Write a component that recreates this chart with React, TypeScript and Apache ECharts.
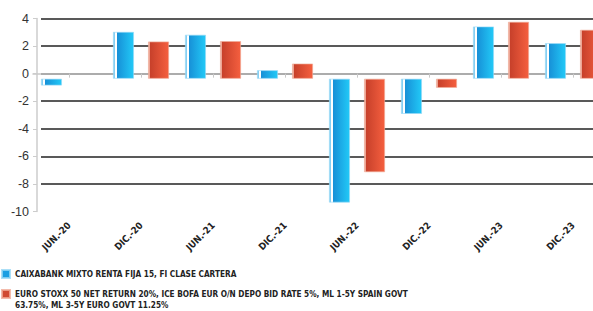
import React, { useEffect, useRef } from "react";
import * as echarts from "echarts";

const categories = ["JUN.-20", "DIC.-20", "JUN.-21", "DIC.-21", "JUN.-22", "DIC.-22", "JUN.-23", "DIC.-23"];
const fundName = "CAIXABANK MIXTO RENTA FIJA 15, FI CLASE CARTERA";
const benchName = "EURO STOXX 50 NET RETURN 20%, ICE BOFA EUR O/N DEPO BID RATE 5%, ML 1-5Y SPAIN GOVT 63.75%, ML 3-5Y EURO GOVT 11.25%";
const fundValues: (number | null)[] = [-0.86, 3.03, 2.82, 0.25, -9.35, -2.92, 3.42, 2.21];
const benchValues: (number | null)[] = [null, 2.33, 2.36, 0.73, -7.15, -1.03, 3.76, 3.18];
const yTicks = { min: -10, max: 4, interval: 2 };
// visual baseline the original chart draws its bars from
const BASE = -0.37;

const FONT = "'Liberation Sans Narrow', 'Arial Narrow', 'DejaVu Sans Condensed', sans-serif";

const blueFill = {
  type: "linear", x: 0, y: 0, x2: 1, y2: 0,
  colorStops: [
    { offset: 0, color: "#86cff2" },
    { offset: 0.08, color: "#86cff2" },
    { offset: 0.08, color: "#ffffff" },
    { offset: 0.18, color: "#ffffff" },
    { offset: 0.18, color: "#1790d7" },
    { offset: 1, color: "#22c9f7" },
  ],
};
const redFill = {
  type: "linear", x: 0, y: 0, x2: 1, y2: 0,
  colorStops: [
    { offset: 0, color: "#eca594" },
    { offset: 0.1, color: "#eca594" },
    { offset: 0.1, color: "#c8412b" },
    { offset: 1, color: "#f55f3f" },
  ],
};

export default function App() {
  const ref = useRef<HTMLDivElement>(null);
  useEffect(() => {
    if (!ref.current) return;
    const chart = echarts.init(ref.current, undefined, { renderer: "svg" });
    const benchLines = benchName.split(" GOVT 63.75%");
    const benchLabel = "\n" + benchLines[0] + " GOVT\n63.75%" + benchLines[1];
    const barCommon = { type: "bar", barWidth: 21, barGap: "67%", stackStrategy: "all", xAxisIndex: 0, yAxisIndex: 0 };
    chart.setOption({
      animation: false,
      grid: [
        { left: 33, top: 18.5, width: 576, height: 193, outerBoundsMode: "none", containLabel: false },
        { left: 41, right: 0, top: 18.5, height: 165.4, outerBoundsMode: "none", containLabel: false },
      ],
      xAxis: [
        {
          gridIndex: 0,
          type: "category",
          data: categories,
          offset: 5,
          axisLine: { show: true, lineStyle: { color: "#c8c8c8", width: 1.5 } },
          axisTick: { show: true, alignWithLabel: true, length: 4, lineStyle: { color: "#c8c8c8" } },
          axisLabel: { interval: 0, rotate: 45, margin: 7, fontSize: 9.5, fontWeight: "bold", fontFamily: FONT, color: "#222" },
        },
        { gridIndex: 1, type: "value", show: false, min: 0, max: 1 },
      ],
      yAxis: [
        {
          gridIndex: 0,
          type: "value",
          min: yTicks.min,
          max: yTicks.max,
          interval: yTicks.interval,
          offset: -4,
          splitLine: { show: false },
          axisLine: { show: true, lineStyle: { color: "#cccccc", width: 1.5 } },
          axisTick: { show: true, length: 4, lineStyle: { color: "#cccccc" } },
          axisLabel: { margin: 8, fontSize: 12.5, color: "#333", fontFamily: "Arial, 'Liberation Sans', sans-serif" },
        },
        {
          gridIndex: 1,
          type: "value",
          min: -8,
          max: yTicks.max,
          interval: yTicks.interval,
          axisLine: { show: false },
          axisTick: { show: false },
          axisLabel: { show: false },
          splitLine: { show: true, lineStyle: { color: "#222", width: 1.5 } },
        },
      ],
      legend: [
        {
          orient: "vertical",
          left: 1,
          top: 269,
          padding: 0,
          itemWidth: 8,
          itemHeight: 8,
          icon: "rect",
          data: [{ name: fundName, itemStyle: { color: "#1a9ee2" } }],
          textStyle: { fontSize: 8.2, fontWeight: "bold", fontFamily: FONT, color: "#222" },
        },
        {
          orient: "vertical",
          left: 1,
          top: 277.5,
          padding: 0,
          itemWidth: 8,
          itemHeight: 8,
          icon: "rect",
          data: [{ name: benchName, itemStyle: { color: "#d04a32" } }],
          formatter: () => benchLabel,
          textStyle: { fontSize: 8.2, lineHeight: 11, fontWeight: "bold", fontFamily: FONT, color: "#222" },
        },
      ],
      series: [
        { ...barCommon, name: "baseA", stack: "a", silent: true, data: categories.map(() => BASE), itemStyle: { color: "rgba(0,0,0,0)" } },
        {
          ...barCommon,
          name: fundName,
          stack: "a",
          data: fundValues.map((v) => (v == null ? null : v - BASE)),
          itemStyle: { color: blueFill, borderColor: "rgba(150,215,245,0.8)", borderWidth: 0.8 },
        },
        { ...barCommon, name: "baseB", stack: "b", silent: true, data: categories.map(() => BASE), itemStyle: { color: "rgba(0,0,0,0)" } },
        {
          ...barCommon,
          name: benchName,
          stack: "b",
          data: benchValues.map((v) => (v == null ? null : v - BASE)),
          itemStyle: { color: redFill, borderColor: "rgba(240,170,150,0.8)", borderWidth: 0.8 },
        },
      ],
    });
    return () => chart.dispose();
  }, []);
  return (
    <div
      ref={ref}
      style={{ position: "fixed", left: 0, top: 0, width: 593, height: 311, overflow: "hidden", background: "#fff" }}
    />
  );
}
